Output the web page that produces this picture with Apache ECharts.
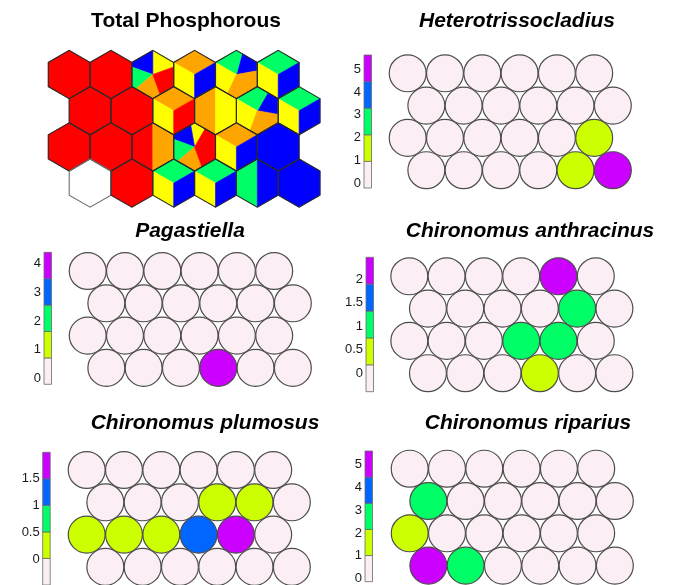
<!DOCTYPE html>
<html>
<head>
<meta charset="utf-8">
<script src="https://cdn.jsdelivr.net/npm/echarts@6/dist/echarts.min.js"></script>
<style>
  html, body { margin: 0; padding: 0; background: #ffffff; }
  #chart { width: 683px; height: 585px; }
</style>
</head>
<body>
<div id="chart"></div>
<script>
// SOM node grid: 4 rows x 6 columns, hexagonal topology (rows 1 and 3 shifted half a node right)
const NROWS = 4;
const NCOLS = 6;

// Total Phosphorous classes drawn as pie sectors inside each hexagonal node
const tpClassColors = ['#FF0000', '#FFA500', '#FFFF00', '#00FF66', '#0000FF', '#FFFFFF'];
// [row, col, class, fromDeg, toDeg]  (0 = red, 1 = orange, 2 = yellow, 3 = green, 4 = blue, 5 = empty)
const tpSectors = [
  [0, 0, 0, 0, 360], [0, 1, 0, 0, 360],
  [0, 2, 2, 20, 90], [0, 2, 4, 90, 160], [0, 2, 3, 160, 220], [0, 2, 1, 220, 290], [0, 2, 0, 290, 380],
  [0, 3, 1, 30, 150], [0, 3, 2, 150, 270], [0, 3, 4, 270, 390],
  [0, 4, 4, 10, 75], [0, 4, 3, 75, 150], [0, 4, 2, 150, 245], [0, 4, 1, 245, 370],
  [0, 5, 3, 30, 150], [0, 5, 2, 150, 270], [0, 5, 4, 270, 390],

  [1, 0, 0, 0, 360], [1, 1, 0, 0, 360],
  [1, 2, 1, 30, 150], [1, 2, 2, 150, 270], [1, 2, 0, 270, 390],
  [1, 3, 1, 90, 270], [1, 3, 2, 270, 450],
  [1, 4, 4, -10, 60], [1, 4, 3, 60, 150], [1, 4, 2, 150, 250], [1, 4, 1, 250, 350],
  [1, 5, 3, 30, 150], [1, 5, 2, 150, 270], [1, 5, 4, 270, 390],

  [2, 0, 0, 0, 360], [2, 1, 0, 0, 360],
  [2, 2, 0, 90, 270], [2, 2, 1, 270, 450],
  [2, 3, 2, 60, 100], [2, 3, 4, 100, 160], [2, 3, 3, 160, 220], [2, 3, 1, 220, 290], [2, 3, 0, 290, 420],
  [2, 4, 1, 30, 150], [2, 4, 2, 150, 270], [2, 4, 4, 270, 390],
  [2, 5, 4, 0, 360],

  [3, 0, 5, 0, 360], [3, 1, 0, 0, 360],
  [3, 2, 3, 30, 150], [3, 2, 2, 150, 270], [3, 2, 4, 270, 390],
  [3, 3, 3, 30, 150], [3, 3, 2, 150, 270], [3, 3, 4, 270, 390],
  [3, 4, 3, 90, 270], [3, 4, 4, 270, 450],
  [3, 5, 4, 0, 360]
];

// Species abundance per node (rows top to bottom, columns left to right)
const speciesNames = ['Heterotrissocladius', 'Pagastiella', 'Chironomus anthracinus', 'Chironomus plumosus', 'Chironomus riparius'];
const heterotrissocladius = [
  [0, 0, 0, 0, 0, 0],
  [0, 0, 0, 0, 0, 0],
  [0, 0, 0, 0, 0, 1.5],
  [0, 0, 0, 0, 1.5, 5.2]
];
const pagastiella = [
  [0, 0, 0, 0, 0, 0],
  [0, 0, 0, 0, 0, 0],
  [0, 0, 0, 0, 0, 0],
  [0, 0, 0, 4.1, 0, 0]
];
const anthracinus = [
  [0, 0, 0, 0, 2.2, 0],
  [0, 0, 0, 0, 1.0, 0],
  [0, 0, 0, 1.0, 1.0, 0],
  [0, 0, 0, 0.5, 0, 0]
];
const plumosus = [
  [0, 0, 0, 0, 0, 0],
  [0, 0, 0, 0.3, 0.3, 0],
  [0.3, 0.3, 0.3, 1.2, 1.7, 0],
  [0, 0, 0, 0, 0, 0]
];
const riparius = [
  [0, 0, 0, 0, 0, 0],
  [2.7, 0, 0, 0, 0, 0],
  [1.6, 0, 0, 0, 0, 0],
  [5.0, 2.7, 0, 0, 0, 0]
];
// colour key range and labelled values for each species
const keyRanges = [[-0.206, 5.627], [-0.2, 4.4], [-0.39, 2.47], [-0.48, 1.98], [-0.14, 5.61]];
const keyTicks = [[0, 1, 2, 3, 4, 5], [0, 1, 2, 3, 4], [0, 0.5, 1, 1.5, 2], [0, 0.5, 1, 1.5], [0, 1, 2, 3, 4, 5]];
const keyColors = ['#FBEEF5', '#CCFF00', '#00FF66', '#0066FF', '#CC00FF'];

// ---------------------------------------------------------------
const FONT = "'Liberation Sans', Arial, Helvetica, sans-serif";
const chart = echarts.init(document.getElementById('chart'), null, { renderer: 'canvas' });

// panel layout (pixels)
const hexGrid = { left: 48.3, top: 56.4, width: 271.7, height: 144.8 };
const circleGrids = [
  { left: 389.05, top: 57.15 },
  { left: 69.05, top: 254.85 },
  { left: 390.65, top: 260.15 },
  { left: 68.05, top: 453.85 },
  { left: 391.05, top: 452.55 }
];
const CIRCLE_W = 242.45, CIRCLE_H = 129.2;
const keyGrids = [
  { left: 364, top: 55, bottom: 188 },
  { left: 44, top: 252.3, bottom: 384.3 },
  { left: 366, top: 257.3, bottom: 391.7 },
  { left: 42.7, top: 452.3, bottom: 585.6 },
  { left: 365, top: 451, bottom: 583.3 }
];
const titles = [
  { text: 'Total Phosphorous', x: 186, y: 21, italic: false },
  { text: speciesNames[0], x: 517, y: 21, italic: true },
  { text: speciesNames[1], x: 190, y: 231, italic: true },
  { text: speciesNames[2], x: 530, y: 231, italic: true },
  { text: speciesNames[3], x: 205, y: 423, italic: true },
  { text: speciesNames[4], x: 528, y: 423, italic: true }
];

const grids = [], xAxes = [], yAxes = [], series = [];

function addNodeGrid(g, w, h) {
  const idx = grids.length;
  grids.push({ left: g.left, top: g.top, width: w, height: h });
  xAxes.push({ gridIndex: idx, type: 'value', min: -0.5, max: NCOLS, show: false });
  yAxes.push({ gridIndex: idx, type: 'value', min: -0.5, max: NROWS - 0.5, inverse: true, show: false });
  return idx;
}

// point on the hexagon outline (flat-to-flat width w) in direction deg
function hexPoint(cx, cy, w, deg) {
  const a = deg * Math.PI / 180;
  const phi = Math.round(deg / 60) * 60 * Math.PI / 180;
  const d = (w / 2) / Math.cos(a - phi);
  return [cx + d * Math.cos(a), cy - d * Math.sin(a)];
}
function sectorPoints(cx, cy, w, from, to) {
  const pts = [[cx, cy], hexPoint(cx, cy, w, from)];
  let v = Math.floor((from - 30) / 60) * 60 + 30 + 60;
  for (; v < to; v += 60) pts.push(hexPoint(cx, cy, w, v));
  pts.push(hexPoint(cx, cy, w, to));
  return pts;
}

// --- Total Phosphorous hexagon map
const hexIdx = addNodeGrid(hexGrid, hexGrid.width, hexGrid.height);
series.push({
  type: 'custom',
  xAxisIndex: hexIdx, yAxisIndex: hexIdx,
  data: tpSectors.map(s => [s[1] + (s[0] % 2) * 0.5, s[0], s[2], s[3], s[4]]),
  renderItem: function (params, api) {
    const c = api.coord([api.value(0), api.value(1)]);
    const w = api.size([1, 0])[0];
    const color = tpClassColors[api.value(2)];
    return {
      type: 'polygon',
      shape: { points: sectorPoints(c[0], c[1], w, api.value(3), api.value(4)) },
      style: { fill: color, stroke: color, lineWidth: 0.6 }
    };
  },
  silent: true
});
// node outlines
const tpNodes = [];
for (let r = 0; r < NROWS; r++) for (let c = 0; c < NCOLS; c++) {
  const empty = tpSectors.some(s => s[0] === r && s[1] === c && s[2] === 5) ? 1 : 0;
  tpNodes.push([c + (r % 2) * 0.5, r, empty]);
}
series.push({
  type: 'custom',
  xAxisIndex: hexIdx, yAxisIndex: hexIdx,
  data: tpNodes,
  z: 3,
  renderItem: function (params, api) {
    const c = api.coord([api.value(0), api.value(1)]);
    const w = api.size([1, 0])[0];
    const pts = [];
    for (let k = 0; k < 6; k++) pts.push(hexPoint(c[0], c[1], w, 30 + 60 * k));
    return {
      type: 'polygon',
      shape: { points: pts },
      style: { fill: null, stroke: api.value(2) ? '#6e6e6e' : '#2a2a2a', lineWidth: 1.1 }
    };
  },
  silent: true
});

// --- species circle maps with colour keys
const speciesValues = [heterotrissocladius, pagastiella, anthracinus, plumosus, riparius];
function binColor(v, range) {
  const k = Math.min(keyColors.length - 1, Math.max(0, Math.floor((v - range[0]) / (range[1] - range[0]) * keyColors.length)));
  return keyColors[k];
}
speciesValues.forEach(function (mat, i) {
  const gi = addNodeGrid(circleGrids[i], CIRCLE_W, CIRCLE_H);
  const data = [];
  for (let r = 0; r < NROWS; r++) for (let c = 0; c < NCOLS; c++) data.push([c + (r % 2) * 0.5, r, mat[r][c]]);
  const range = keyRanges[i];
  series.push({
    type: 'custom',
    xAxisIndex: gi, yAxisIndex: gi,
    data: data,
    renderItem: function (params, api) {
      const c = api.coord([api.value(0), api.value(1)]);
      const w = api.size([1, 0])[0];
      return {
        type: 'circle',
        shape: { cx: c[0], cy: c[1], r: w / 2 - 0.2 },
        style: { fill: binColor(api.value(2), range), stroke: '#4d4d4d', lineWidth: 1.2 }
      };
    },
    silent: true
  });

  // colour key
  const kg = keyGrids[i];
  const ki = grids.length;
  grids.push({ left: kg.left, top: kg.top, width: 7.5, height: kg.bottom - kg.top });
  xAxes.push({ gridIndex: ki, type: 'value', min: 0, max: 1, show: false });
  yAxes.push({
    gridIndex: ki, type: 'value', min: range[0], max: range[1],
    axisLine: { show: false }, axisTick: { show: false }, splitLine: { show: false },
    axisLabel: {
      customValues: keyTicks[i], margin: 3, fontSize: 13, color: '#1a1a1a', fontFamily: FONT,
      showMinLabel: true, showMaxLabel: true
    }
  });
  const step = (range[1] - range[0]) / keyColors.length;
  series.push({
    type: 'custom',
    xAxisIndex: ki, yAxisIndex: ki,
    data: keyColors.map((col, k) => [k, range[0] + k * step, range[0] + (k + 1) * step]),
    renderItem: function (params, api) {
      const p0 = api.coord([0, api.value(1)]);
      const p1 = api.coord([1, api.value(2)]);
      return {
        type: 'rect',
        shape: { x: p0[0], y: p1[1], width: p1[0] - p0[0], height: p0[1] - p1[1] },
        style: { fill: keyColors[api.value(0)], stroke: '#6a6a6a', lineWidth: 0.8 }
      };
    },
    silent: true
  });
});

chart.setOption({
  animation: false,
  backgroundColor: '#ffffff',
  grid: grids,
  xAxis: xAxes,
  yAxis: yAxes,
  series: series,
  graphic: titles.map(t => ({
    type: 'text',
    x: t.x, y: t.y,
    style: {
      text: t.text,
      font: (t.italic ? 'italic ' : '') + 'bold 21px ' + FONT,
      fill: '#000000',
      textAlign: 'center',
      textVerticalAlign: 'middle'
    }
  }))
});
</script>
</body>
</html>
